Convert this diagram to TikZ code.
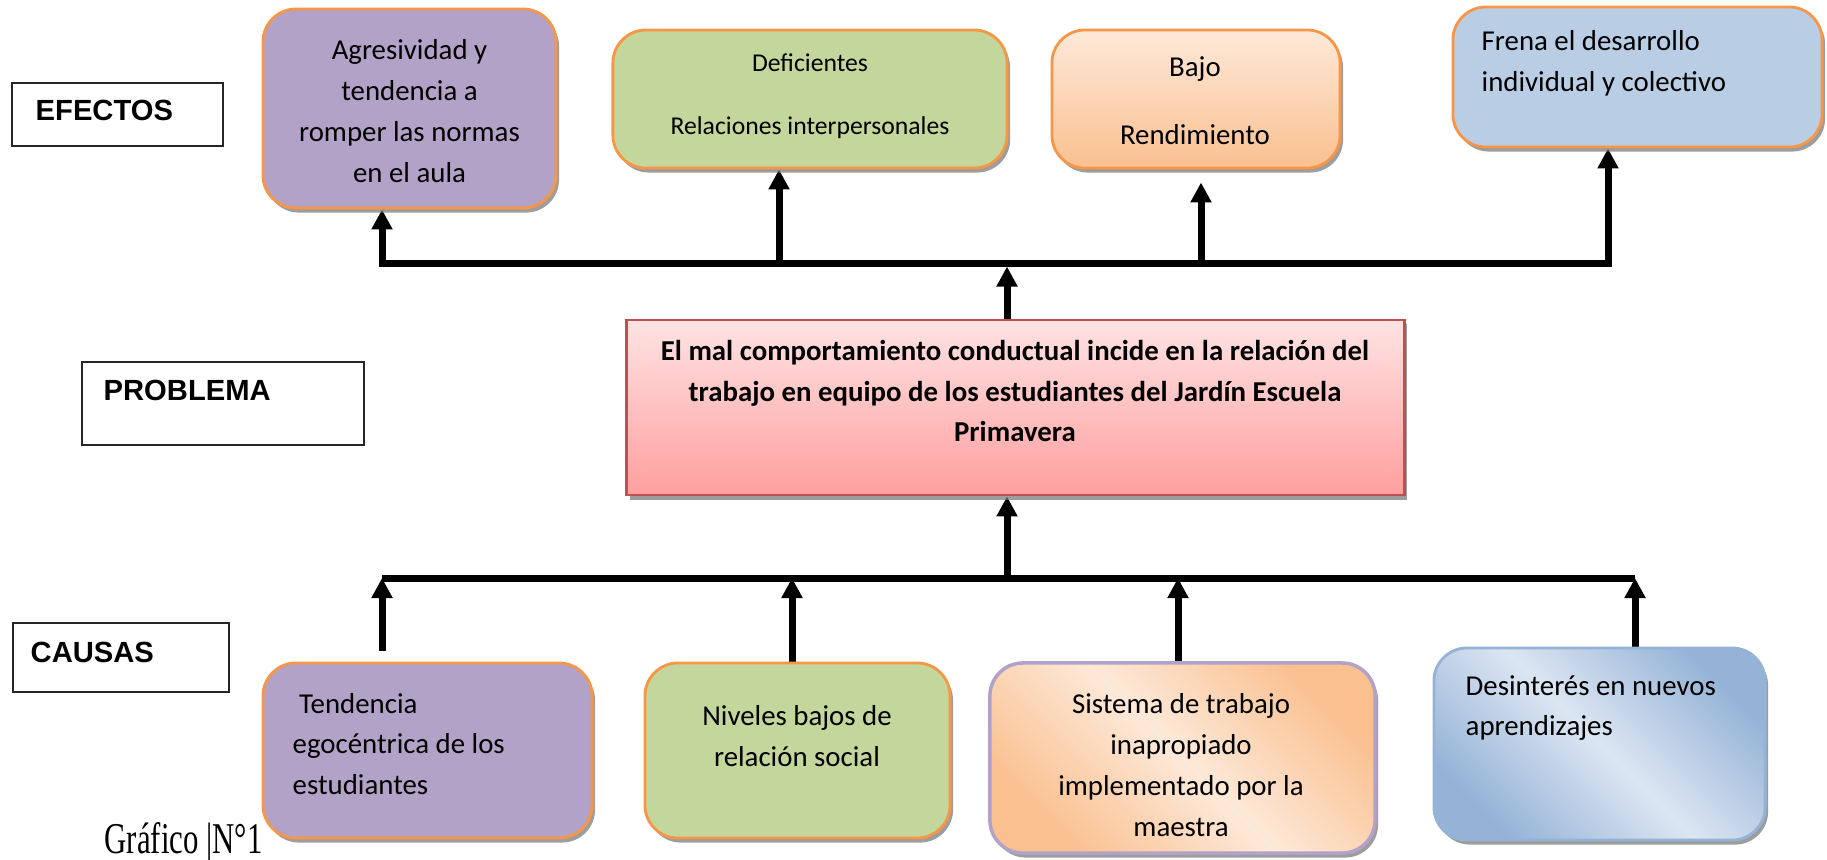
\documentclass[tikz,border=0pt]{standalone}
\usepackage{fontspec}
\setmainfont{Carlito}
\newfontfamily\arialfont{Liberation Sans}
\newfontfamily\timesfont{Liberation Serif}
\usetikzlibrary{arrows.meta,shadows}
\pgfdeclarelayer{bg}
\pgfsetlayers{bg,main}
\definecolor{lila}{HTML}{B2A2C7}
\definecolor{verde}{HTML}{C3D69B}
\definecolor{celeste}{HTML}{B9CDE5}
\definecolor{naranja}{HTML}{F79646}
\definecolor{durazno}{HTML}{FDE9D9}
\definecolor{salmon}{HTML}{FAC090}
\definecolor{rosaA}{HTML}{FFE3E3}
\definecolor{rosaB}{HTML}{FF9F9F}
\definecolor{rojo}{HTML}{C0504D}
\definecolor{azulA}{HTML}{DCE6F2}
\definecolor{azulB}{HTML}{95B3D7}
\tikzset{
  tag/.style={draw=black!85, line width=0.7pt, fill=white},
  card/.style={rounded corners=0.33cm, draw=naranja, line width=0.8pt,
    drop shadow={shadow xshift=0.03cm, shadow yshift=-0.045cm, fill=black!55, opacity=0.7}},
  txt/.style={inner sep=0pt, font=\fontsize{8.2}{11.6}\selectfont},
  tagtxt/.style={inner sep=0pt, anchor=west, font=\arialfont\bfseries\fontsize{8.3}{10}\selectfont},
  flow/.style={line width=0.07cm}
}

\begin{document}
\begin{tikzpicture}[x=0.01cm, y=-0.01cm, >={Triangle[width=0.2cm,length=0.2cm]}]
    \useasboundingbox (0,0) rectangle (1827,859);

    % row labels
    \node (efx) at (117.5,114.5) [tag, minimum width=2.11cm, minimum height=0.63cm] {};
    \node (prb) at (223,403.5) [tag, minimum width=2.82cm, minimum height=0.83cm] {};
    \node (cau) at (121,657.5) [tag, minimum width=2.16cm, minimum height=0.69cm] {};
    \node (efxt) at (35,110) [tagtxt] {EFECTOS};
    \node (prbt) at (103,390) [tagtxt] {PROBLEMA};
    \node (caut) at (30,652) [tagtxt] {CAUSAS};

    % efectos
    \node (e1) at (409.5,108.5) [card, fill=lila, minimum width=2.93cm, minimum height=1.99cm] {};
    \node (e2) at (810,99) [card, fill=verde, minimum width=3.94cm, minimum height=1.38cm] {};
    \node (e3) at (1196,99) [card, top color=durazno, bottom color=salmon, minimum width=2.88cm, minimum height=1.38cm] {};
    \node (e4) at (1637.5,77) [card, fill=celeste, minimum width=3.69cm, minimum height=1.40cm] {};

    \node (e1t) at (409.5,111) [txt, align=center] {Agresividad y\\tendencia a\\romper las normas\\en el aula};
    \node (e2t) at (810,96) [txt, align=center, font=\fontsize{7.3}{17.9}\selectfont] {Deficientes\\Relaciones interpersonales};
    \node (e3t) at (1195,101) [txt, align=center, font=\fontsize{8.2}{19.3}\selectfont] {Bajo\\Rendimiento};
    \node (e4t) at (1481,63) [txt, align=left, anchor=west] {Frena el desarrollo\\individual y colectivo};

    % problema
    \node (prob) at (1015.5,407.5) [draw=rojo, line width=0.8pt, top color=rosaA, bottom color=rosaB,
        drop shadow={shadow xshift=0.03cm, shadow yshift=-0.045cm, fill=black!55, opacity=0.7},
        minimum width=7.77cm, minimum height=1.75cm] {};
    \node (probt) at (1015,391) [txt, align=center, font=\fontsize{8.2}{11.6}\selectfont\bfseries]
        {El mal comportamiento conductual incide en la relación del\\trabajo en equipo de los estudiantes del Jardín Escuela\\Primavera};

    % causas
    \node (c1) at (427.5,750.5) [card, fill=lila, minimum width=3.29cm, minimum height=1.75cm] {};
    \node (c2) at (797.5,750.5) [card, fill=verde, minimum width=3.05cm, minimum height=1.75cm] {};
    \node (c3) at (1182.5,758) [card, draw=lila, line width=1pt, top color=salmon, bottom color=salmon, middle color=durazno,
        shading angle=-45, minimum width=3.85cm, minimum height=1.90cm] {};
    \node (c4) at (1599.5,744) [card, draw=azulB, top color=azulB, bottom color=azulB, middle color=azulA,
        shading angle=-45, minimum width=3.31cm, minimum height=1.92cm] {};

    \node (c1t) at (292,744) [txt, align=left, anchor=west] {\ Tendencia\\egocéntrica de los\\estudiantes};
    \node (c2t) at (797,736) [txt, align=center] {Niveles bajos de\\relación social};
    \node (c3t) at (1181,765) [txt, align=center] {Sistema de trabajo\\inapropiado\\implementado por la\\maestra};
    \node (c4t) at (1465,708) [txt, align=left, anchor=west] {Desinterés en nuevos\\aprendizajes};

    \node (graf) at (104,853) [inner sep=0pt, anchor=base west, font=\timesfont\fontsize{12.5}{14}\selectfont]
        {\scalebox{0.7}[1]{Gráfico |N°1}};

    % joints on the two bars
    \coordinate (a0) at (1007,263);
    \coordinate (a1) at (382,263);
    \coordinate (a2) at (779,263);
    \coordinate (a3) at (1201,263);
    \coordinate (a4) at (1608,263);
    \coordinate (b0) at (1007,578);
    \coordinate (b1) at (382,578);
    \coordinate (b2) at (792,578);
    \coordinate (b3) at (1178,578);
    \coordinate (b4) at (1635,578);

    \begin{pgfonlayer}{bg}
        \draw[flow, <->] (e1.south -| a1) |- (a4) -- (e4.south -| a4);
        \draw[flow, ->] (a2) -- (e2.south -| a2);
        \draw[flow, ->] (a3) -- ([yshift=-0.13cm]e3.south -| a3);
        \draw[flow, ->] (prob.north -| a0) -- ([yshift=-0.035cm]a0);

        \draw[flow] (b1) -- (b4);
        \draw[flow, ->] ([yshift=0.11cm]c1.north -| b1) -- (b1);
        \draw[flow, ->] (c2.north -| b2) -- (b2);
        \draw[flow, ->] (c3.north -| b3) -- (b3);
        \draw[flow, ->] (c4.north -| b4) -- (b4);
        \draw[flow, ->] (b0) -- (prob.south -| b0);
    \end{pgfonlayer}
\end{tikzpicture}
\end{document}
